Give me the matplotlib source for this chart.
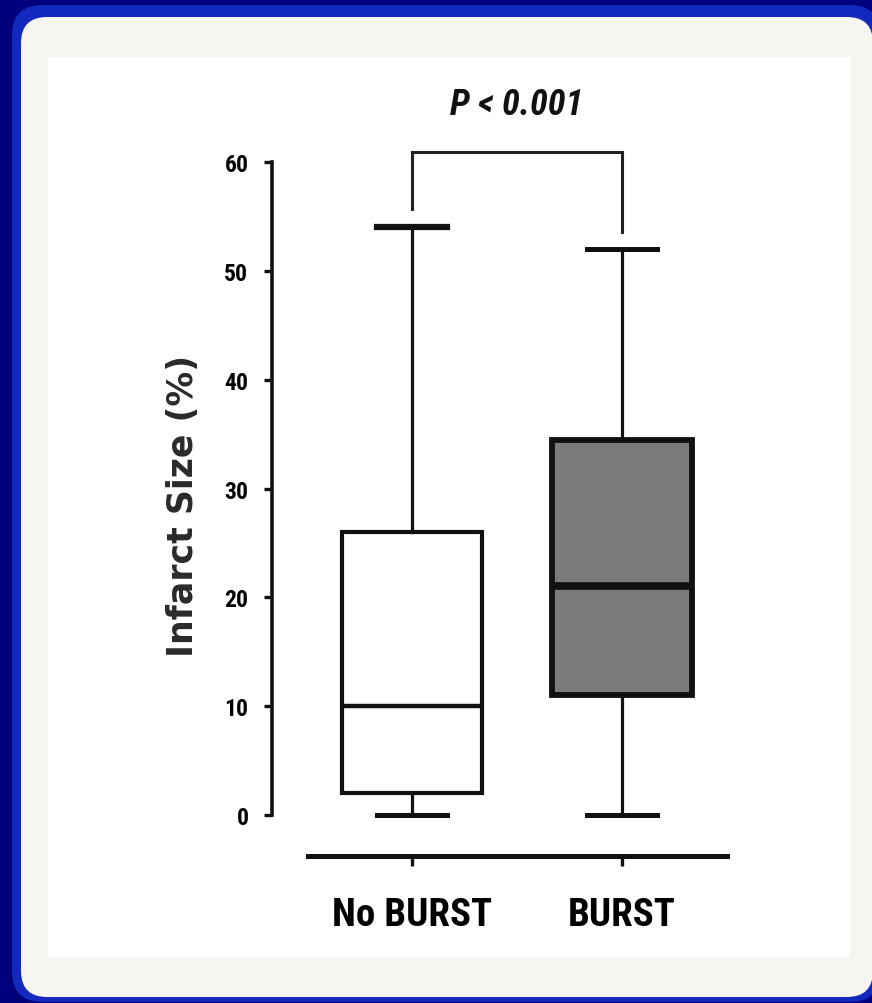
import matplotlib
matplotlib.use("Agg")
import matplotlib.pyplot as plt
from matplotlib import font_manager
from matplotlib.patches import FancyBboxPatch, Rectangle

# box plot summary per group
groups = ["No BURST", "BURST"]
whisker_low = [0, 0]
q1 = [2, 11]
median = [10, 21]
q3 = [26, 34.5]
whisker_high = [54, 52]
box_colors = ["white", "#7b7b7b"]
y_ticks = [0, 10, 20, 30, 40, 50, 60]
p_text = "P < 0.001"

W, H = 872, 1004
fig = plt.figure(figsize=(W / 100, H / 100), dpi=100)
fig.patch.set_facecolor("#00007c")

# pick a condensed face if one is installed
have = {f.name for f in font_manager.fontManager.ttflist}
narrow_name = None
for name in ["Liberation Sans Narrow", "DejaVu Sans Condensed", "Roboto Condensed",
             "Open Sans Condensed", "Noto Sans Condensed"]:
    if name in have:
        narrow_name = name
        break
if narrow_name is None:
    narrow = ["Liberation Sans", "DejaVu Sans"]
    shrink = 0.85
else:
    narrow = [narrow_name, "DejaVu Sans"]
    shrink = 1.0


def px_box(x0, y0, x1, y1):
    # pixel rectangle (top-left origin) -> figure fraction
    return x0 / W, 1 - y1 / H, (x1 - x0) / W, (y1 - y0) / H


# slide frame: blue rim, off-white rounded panel, white plotting area
for (x0, y0, x1, y1), col, rad in [((12, 6, 880, 1003), "#1329bd", 0.035),
                                    ((21, 18, 873, 998), "#f6f5f1", 0.03)]:
    l, b, w, h = px_box(x0, y0, x1, y1)
    fig.patches.append(FancyBboxPatch((l, b), w, h, boxstyle=f"round,pad=0,rounding_size={rad}",
                                      transform=fig.transFigure, facecolor=col,
                                      edgecolor="none", mutation_aspect=W / H, zorder=-10))
l, b, w, h = px_box(48, 58, 850, 958)
fig.patches.append(Rectangle((l, b), w, h, transform=fig.transFigure,
                             facecolor="white", edgecolor="none", zorder=-9))

# axes: left spine at x=272px, bottom line at y=857px
l, b, w, h = px_box(272, 76, 727, 857)
ax = fig.add_axes([l, b, w, h])
ax.set_facecolor("none")

stats = []
for i in range(len(groups)):
    stats.append(dict(whislo=whisker_low[i], q1=q1[i], med=median[i],
                      q3=q3[i], whishi=whisker_high[i], fliers=[], label=groups[i]))

res = ax.bxp(stats, positions=[1, 2], widths=0.667, capwidths=0.333,
             patch_artist=True, showfliers=False,
             boxprops=dict(linewidth=3.0, edgecolor="#111111"),
             medianprops=dict(color="#111111", linewidth=3.2),
             whiskerprops=dict(color="#111111", linewidth=2.3),
             capprops=dict(color="#111111", linewidth=3.6))
for patch, col in zip(res["boxes"], box_colors):
    patch.set_facecolor(col)
res["medians"][1].set_linewidth(5.5)
res["caps"][1].set_linewidth(4.5)
res["boxes"][1].set_linewidth(4.2)

ax.set_xlim(1 - 140 / 210, 2.5)
ax.set_ylim(-(857 - 816) / 10.88, 68)

for s in ["top", "right"]:
    ax.spines[s].set_visible(False)
ax.spines["left"].set_bounds(0, 60)
ax.spines["left"].set_linewidth(2.6)
ax.spines["bottom"].set_bounds(1 - 104 / 210, 2.5)
ax.spines["bottom"].set_linewidth(3.6)
ax.spines["left"].set_color("#111111")
ax.spines["bottom"].set_color("#111111")

ax.set_yticks(y_ticks)
ax.set_yticklabels([str(v) for v in y_ticks])
ax.set_xticks([1, 2])
ax.set_xticklabels(groups)
ax.tick_params(axis="y", length=6, width=2.4, pad=11, color="#111111")
ax.tick_params(axis="x", length=7, width=2.4, pad=22, color="#111111")

for t in ax.get_yticklabels():
    t.set_fontfamily(narrow)
    t.set_fontweight("bold")
    t.set_fontsize(17 * shrink)
for t in ax.get_xticklabels():
    t.set_fontfamily(narrow)
    t.set_fontweight("bold")
    t.set_fontsize(28 * shrink)

ax.set_ylabel("Infarct Size (%)", family="DejaVu Sans",
              fontweight="bold", fontsize=25, color="#2a2a2a")
ax.yaxis.set_label_coords(-0.158, 0.45)

# significance bracket
ax.plot([1, 1, 2, 2], [55.7, 60.9, 60.9, 53.6], color="#222222",
        linewidth=2.2, clip_on=False, solid_joinstyle="miter")
ax.text(1.5, 65.3, p_text, ha="center", va="center", family=narrow,
        fontweight="bold", fontstyle="italic", fontsize=26 * shrink, color="#111111")

fig.savefig("out.png", dpi=100, facecolor=fig.get_facecolor())
